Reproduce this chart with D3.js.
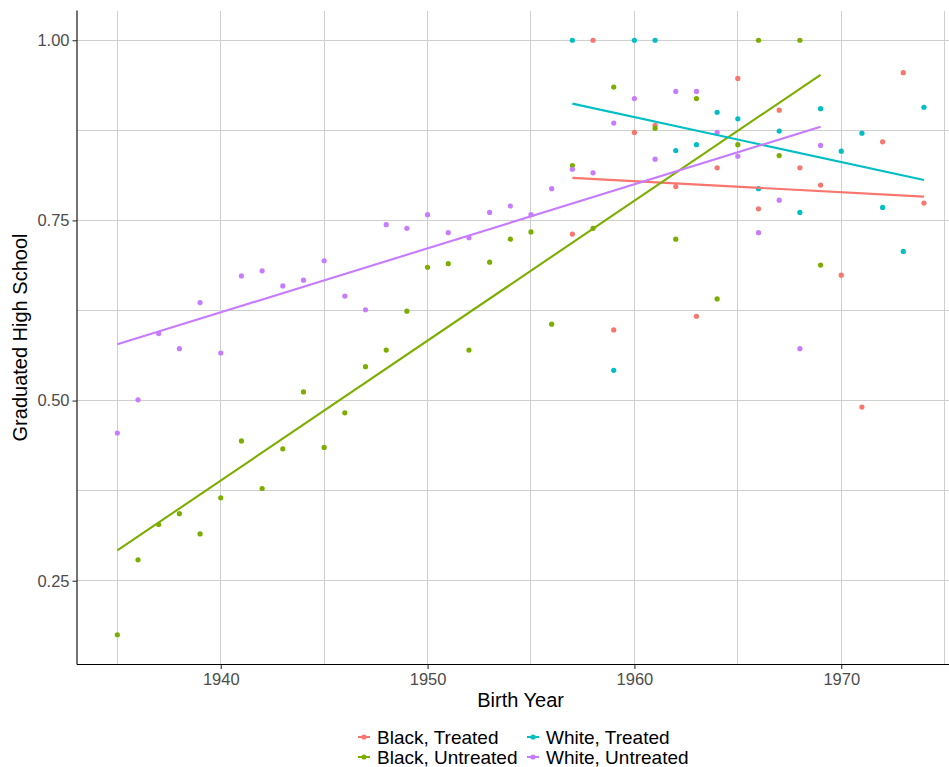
<!DOCTYPE html>
<meta charset="utf-8">
<style>
body { margin: 0; background: #fff; }
text { font-family: "Liberation Sans", Arial, sans-serif; }
.grid line { stroke: #cfcfcf; shape-rendering: crispEdges; }
.tick-label { fill: #4d4d4d; font-size: 16.5px; }
.axis-title { fill: #000; font-size: 20px; }
.legend-label { fill: #000; font-size: 19px; }
</style>
<body>
<script src="https://d3js.org/d3.v7.min.js"></script>
<script>

// series labels and colours (ggplot default hue palette)
var seriesNames = ["Black, Treated", "Black, Untreated", "White, Treated", "White, Untreated"];
var seriesColors = ["#F8766D", "#7CAE00", "#00BFC4", "#C77CFF"];

// Black, Treated
var btYears = [1957, 1958, 1959, 1960, 1961, 1962, 1963, 1964, 1965, 1966, 1967, 1968, 1969, 1970, 1971, 1972, 1973, 1974];
var btValues = [0.731, 1.0, 0.598, 0.872, 0.882, 0.797, 0.617, 0.823, 0.947, 0.766, 0.903, 0.823, 0.799, 0.674, 0.491, 0.859, 0.955, 0.774];

// Black, Untreated
var buYears = [1935, 1936, 1937, 1938, 1939, 1940, 1941, 1942, 1943, 1944, 1945, 1946, 1947, 1948, 1949, 1950, 1951, 1952,
               1953, 1954, 1955, 1956, 1957, 1958, 1959, 1961, 1962, 1963, 1964, 1965, 1966, 1967, 1968, 1969];
var buValues = [0.175, 0.279, 0.328, 0.343, 0.315, 0.365, 0.444, 0.378, 0.433, 0.512, 0.435, 0.483, 0.547, 0.570, 0.624, 0.685, 0.690, 0.570,
                0.692, 0.724, 0.734, 0.606, 0.826, 0.739, 0.935, 0.878, 0.724, 0.919, 0.641, 0.855, 1.0, 0.840, 1.0, 0.688];

// White, Treated
var wtYears = [1957, 1959, 1960, 1961, 1962, 1963, 1964, 1965, 1966, 1967, 1968, 1969, 1970, 1971, 1972, 1973, 1974];
var wtValues = [1.0, 0.542, 1.0, 1.0, 0.847, 0.855, 0.900, 0.891, 0.794, 0.874, 0.761, 0.905, 0.846, 0.871, 0.768, 0.707, 0.907];

// White, Untreated
var wuYears = [1935, 1936, 1937, 1938, 1939, 1940, 1941, 1942, 1943, 1944, 1945, 1946, 1947, 1948, 1949, 1950, 1951, 1952,
               1953, 1954, 1955, 1956, 1957, 1958, 1959, 1960, 1961, 1962, 1963, 1964, 1965, 1966, 1967, 1968, 1969];
var wuValues = [0.455, 0.501, 0.593, 0.572, 0.636, 0.566, 0.673, 0.680, 0.659, 0.667, 0.694, 0.645, 0.626, 0.744, 0.739, 0.758, 0.733, 0.726,
                0.761, 0.770, 0.758, 0.794, 0.821, 0.816, 0.885, 0.919, 0.835, 0.929, 0.929, 0.872, 0.839, 0.733, 0.778, 0.572, 0.854];

// fitted trend lines (start / end)
var btFitYears = [1957, 1974], btFit = [0.809, 0.783];
var buFitYears = [1935, 1969], buFit = [0.292, 0.952];
var wtFitYears = [1957, 1974], wtFit = [0.912, 0.806];
var wuFitYears = [1935, 1969], wuFit = [0.578, 0.880];

// axis ticks
var xMajor = [1940, 1950, 1960, 1970];
var xMinor = [1935, 1945, 1955, 1965, 1975];
var yMajor = [0.25, 0.50, 0.75, 1.00];
var yMinor = [0.375, 0.625, 0.875];

var W = 949, H = 767;
var panel = {left: 77, right: 964.3, top: 10.5, bottom: 664.5};

var zip = function(xs, ys) { return xs.map(function(x, i) { return {x: x, y: ys[i]}; }); };
var series = [
  {pts: zip(btYears, btValues), fit: zip(btFitYears, btFit)},
  {pts: zip(buYears, buValues), fit: zip(buFitYears, buFit)},
  {pts: zip(wtYears, wtValues), fit: zip(wtFitYears, wtFit)},
  {pts: zip(wuYears, wuValues), fit: zip(wuFitYears, wuFit)}
];

var allX = d3.merge([btYears, buYears, wtYears, wuYears]);
var allY = d3.merge([btValues, buValues, wtValues, wuValues]);
var xExt = d3.extent(allX), yExt = d3.extent(allY);
var xPad = (xExt[1] - xExt[0]) * 0.05, yPad = (yExt[1] - yExt[0]) * 0.05;

var x = d3.scaleLinear().domain([xExt[0] - xPad, xExt[1] + xPad]).range([panel.left, panel.right]);
var y = d3.scaleLinear().domain([yExt[0] - yPad, yExt[1] + yPad]).range([panel.bottom, panel.top]);

var svg = d3.select("body").append("svg")
    .attr("width", W)
    .attr("height", H);

// grid
var grid = svg.append("g").attr("class", "grid");
grid.selectAll(".ymin").data(yMinor).enter().append("line")
    .attr("x1", panel.left).attr("x2", panel.right)
    .attr("y1", function(d) { return y(d); }).attr("y2", function(d) { return y(d); })
    .attr("stroke-width", 1);
grid.selectAll(".xmin").data(xMinor).enter().append("line")
    .attr("y1", panel.top).attr("y2", panel.bottom)
    .attr("x1", function(d) { return x(d); }).attr("x2", function(d) { return x(d); })
    .attr("stroke-width", 1);
grid.selectAll(".ymaj").data(yMajor).enter().append("line")
    .attr("x1", panel.left).attr("x2", panel.right)
    .attr("y1", function(d) { return y(d); }).attr("y2", function(d) { return y(d); })
    .attr("stroke-width", 1.3);
grid.selectAll(".xmaj").data(xMajor).enter().append("line")
    .attr("y1", panel.top).attr("y2", panel.bottom)
    .attr("x1", function(d) { return x(d); }).attr("x2", function(d) { return x(d); })
    .attr("stroke-width", 1.3);

// points
series.forEach(function(s, i) {
  svg.append("g").selectAll("circle").data(s.pts).enter().append("circle")
      .attr("cx", function(d) { return x(d.x); })
      .attr("cy", function(d) { return y(d.y); })
      .attr("r", 2.6)
      .attr("fill", seriesColors[i]);
});

// trend lines
var line = d3.line().x(function(d) { return x(d.x); }).y(function(d) { return y(d.y); });
series.forEach(function(s, i) {
  svg.append("path")
      .datum(s.fit)
      .attr("d", line)
      .attr("fill", "none")
      .attr("stroke", seriesColors[i])
      .attr("stroke-width", 2.1);
});

// axes
var xAxis = svg.append("g")
    .attr("transform", "translate(0," + panel.bottom + ")")
    .call(d3.axisBottom(x).tickValues(xMajor).tickSize(4.5).tickPadding(4).tickFormat(d3.format("d")));
var yAxis = svg.append("g")
    .attr("transform", "translate(" + panel.left + ",0)")
    .call(d3.axisLeft(y).tickValues(yMajor).tickSize(4.5).tickPadding(3).tickFormat(d3.format(".2f")));
[xAxis, yAxis].forEach(function(a) {
  a.select(".domain").attr("stroke", "#000").attr("stroke-width", 1.1);
  a.selectAll(".tick line").attr("stroke", "#333").attr("stroke-width", 1.1);
  a.selectAll(".tick text").attr("class", "tick-label").attr("font-family", null).attr("font-size", null);
});
xAxis.select(".domain").attr("d", "M" + panel.left + ",0H" + W);
yAxis.select(".domain").attr("d", "M0," + panel.top + "V" + panel.bottom);

// axis titles
svg.append("text")
    .attr("class", "axis-title")
    .attr("x", (panel.left + panel.right) / 2)
    .attr("y", 707)
    .attr("text-anchor", "middle")
    .text("Birth Year");
svg.append("text")
    .attr("class", "axis-title")
    .attr("transform", "translate(27," + (panel.top + panel.bottom) / 2 + ") rotate(-90)")
    .attr("text-anchor", "middle")
    .text("Graduated High School");

// legend (2 columns, filled by column)
var legendCols = [358, 527], legendRows = [737, 757];
seriesNames.forEach(function(name, i) {
  var gx = legendCols[Math.floor(i / 2)], gy = legendRows[i % 2];
  var g = svg.append("g").attr("transform", "translate(" + gx + "," + gy + ")");
  g.append("line").attr("x1", 0).attr("x2", 12).attr("y1", 0).attr("y2", 0)
      .attr("stroke", seriesColors[i]).attr("stroke-width", 2);
  g.append("circle").attr("cx", 6).attr("cy", 0).attr("r", 2.6).attr("fill", seriesColors[i]);
  g.append("text").attr("class", "legend-label").attr("x", 19).attr("y", 7).text(name);
});

</script>
</body>
